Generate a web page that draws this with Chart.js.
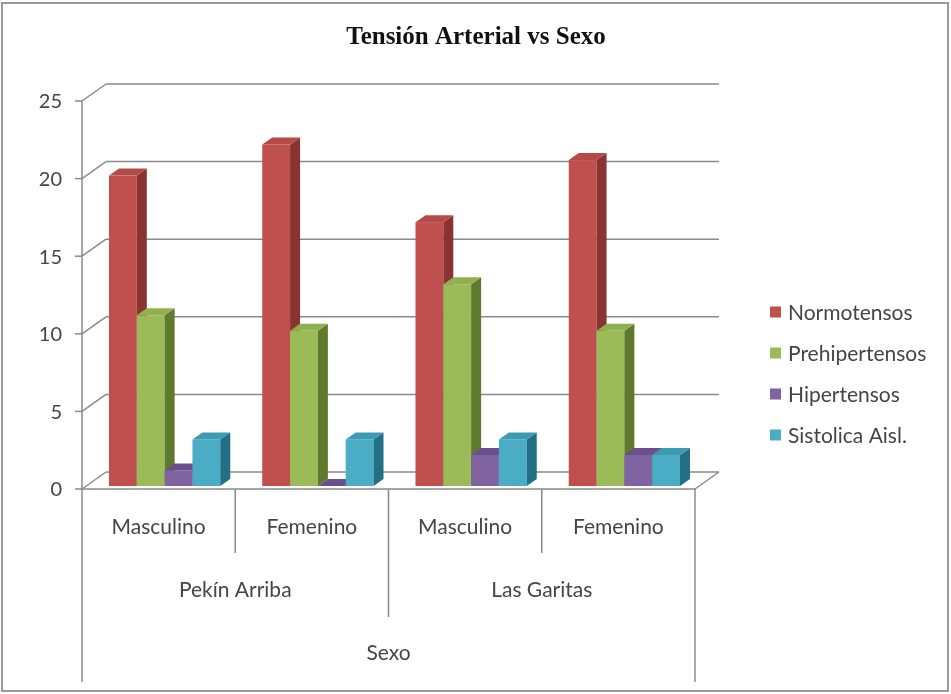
<!DOCTYPE html>
<html>
<head>
<meta charset="utf-8">
<script src="https://cdn.jsdelivr.net/npm/chart.js@4/dist/chart.umd.min.js"></script>
<style>
  html, body { margin: 0; padding: 0; background: #ffffff; }
  #c { display: block; }
</style>
</head>
<body>
<canvas id="c" width="951" height="694"></canvas>
<script>
// ---- data ----
const chartTitle = "Tensión Arterial vs Sexo";
const categories = ["Masculino", "Femenino", "Masculino", "Femenino"];
const groupLabels = ["Pekín Arriba", "Las Garitas"];
const axisTitle = "Sexo";
const seriesNames = ["Normotensos", "Prehipertensos", "Hipertensos", "Sistolica Aisl."];
const normotensos = [20, 22, 17, 21];
const prehipertensos = [11, 10, 13, 10];
const hipertensos = [1, 0, 2, 2];
const sistolica = [3, 3, 3, 2];
const yTicks = [0, 5, 10, 15, 20, 25];

// ---- styles ----
const frontColors = ["#C0504D", "#9BBB59", "#8064A2", "#4BACC6"];
const topColors   = ["#B54A47", "#91B04F", "#6A4F8C", "#3C9AB3"];
const sideColors  = ["#8A3431", "#5F7A2C", "#4F3870", "#236F85"];
const lineColor = "#8a8a8a";
const textColor = "#454545";
const labelFont = "21px Lato";
const DEPTH_X = 24, DEPTH_Y = -17;   // back wall offset
const BAR_DX = 10, BAR_DY = -7;      // bar depth
const BAR_SHIFT_X = 6, BAR_SHIFT_Y = -3;

const seriesData = [normotensos, prehipertensos, hipertensos, sistolica];

const drawPlugin = {
  id: 'excel3d',
  beforeDatasetsDraw(chart) {
    const ctx = chart.ctx;
    const ys = chart.scales.y;
    const ca = chart.chartArea;
    ctx.save();
    ctx.strokeStyle = lineColor;
    ctx.lineWidth = 1.5;
    // back wall gridlines + side wall diagonals + tick marks
    yTicks.forEach(v => {
      const py = ys.getPixelForValue(v);
      ctx.beginPath();
      ctx.moveTo(ca.left + DEPTH_X, py + DEPTH_Y);
      ctx.lineTo(ca.right + DEPTH_X, py + DEPTH_Y);
      ctx.stroke();
      ctx.beginPath();
      ctx.moveTo(ca.left, py);
      ctx.lineTo(ca.left + DEPTH_X, py + DEPTH_Y);
      ctx.stroke();
      ctx.beginPath();
      ctx.moveTo(ca.left - 7, py);
      ctx.lineTo(ca.left, py);
      ctx.stroke();
    });
    // floor right diagonal
    const p0 = ys.getPixelForValue(0);
    ctx.beginPath();
    ctx.moveTo(ca.right, p0);
    ctx.lineTo(ca.right + DEPTH_X, p0 + DEPTH_Y);
    ctx.stroke();
    // front axis line
    ctx.beginPath();
    ctx.moveTo(ca.left, ys.getPixelForValue(yTicks[yTicks.length - 1]));
    ctx.lineTo(ca.left, p0);
    ctx.stroke();
    // floor front line
    ctx.beginPath();
    ctx.moveTo(ca.left, p0);
    ctx.lineTo(ca.right, p0);
    ctx.stroke();

    // bars
    ctx.translate(BAR_SHIFT_X, BAR_SHIFT_Y);
    const metas = seriesData.map((_, i) => chart.getDatasetMeta(i));
    for (let j = 0; j < categories.length; j++) {
      for (let i = 0; i < metas.length; i++) {
        const el = metas[i].data[j];
        const x0 = el.x - el.width / 2, x1 = el.x + el.width / 2;
        const yt = el.y, yb = el.base;
        // front
        ctx.fillStyle = frontColors[i];
        ctx.fillRect(x0, yt, x1 - x0, yb - yt);
        // side
        ctx.fillStyle = sideColors[i];
        ctx.beginPath();
        ctx.moveTo(x1, yt);
        ctx.lineTo(x1 + BAR_DX, yt + BAR_DY);
        ctx.lineTo(x1 + BAR_DX, yb + BAR_DY);
        ctx.lineTo(x1, yb);
        ctx.closePath();
        ctx.fill();
        // top
        ctx.fillStyle = topColors[i];
        ctx.beginPath();
        ctx.moveTo(x0, yt);
        ctx.lineTo(x1, yt);
        ctx.lineTo(x1 + BAR_DX, yt + BAR_DY);
        ctx.lineTo(x0 + BAR_DX, yt + BAR_DY);
        ctx.closePath();
        ctx.fill();
      }
    }
    ctx.restore();
    return false;
  },
  afterDraw(chart) {
    const ctx = chart.ctx;
    const ys = chart.scales.y;
    const xs = chart.scales.x;
    const ca = chart.chartArea;
    const p0 = ys.getPixelForValue(0);
    ctx.save();
    // outer border
    ctx.strokeStyle = "#9a9a9a";
    ctx.lineWidth = 2;
    ctx.strokeRect(2, 3, 946, 688);

    // title
    ctx.fillStyle = "#111111";
    ctx.font = "bold 25px 'Liberation Serif'";
    ctx.textAlign = "center";
    ctx.textBaseline = "alphabetic";
    ctx.fillText(chartTitle, 476, 44);

    // y tick labels
    ctx.font = "20px Lato";
    ctx.fillStyle = textColor;
    ctx.textAlign = "right";
    ctx.textBaseline = "middle";
    yTicks.forEach(v => ctx.fillText(String(v), 62, ys.getPixelForValue(v) + 1));

    // table lines
    ctx.strokeStyle = lineColor;
    ctx.lineWidth = 1.5;
    const halfW = (xs.getPixelForValue(1) - xs.getPixelForValue(0)) / 2;
    const bounds = [];
    for (let j = 0; j <= categories.length; j++) {
      bounds.push(j < categories.length ? xs.getPixelForValue(j) - halfW : xs.getPixelForValue(j - 1) + halfW);
    }
    const line = (x, y1, y2) => { ctx.beginPath(); ctx.moveTo(x, y1); ctx.lineTo(x, y2); ctx.stroke(); };
    line(bounds[0], p0, 682);
    line(bounds[4], p0, 682);
    line(bounds[1], p0, 553);
    line(bounds[3], p0, 553);
    line(bounds[2], p0, 617);

    // category labels
    ctx.font = labelFont;
    ctx.fillStyle = textColor;
    ctx.textAlign = "center";
    ctx.textBaseline = "middle";
    categories.forEach((c, j) => ctx.fillText(c, xs.getPixelForValue(j), 527));
    groupLabels.forEach((g, k) => ctx.fillText(g, (bounds[2 * k] + bounds[2 * k + 2]) / 2, 590));
    ctx.fillText(axisTitle, (bounds[0] + bounds[4]) / 2, 653);

    // legend
    const legendY = [312, 353, 394, 435];
    ctx.textAlign = "left";
    seriesNames.forEach((n, i) => {
      ctx.fillStyle = frontColors[i];
      ctx.fillRect(770, legendY[i] - 5.5, 11, 11);
      ctx.fillStyle = textColor;
      ctx.fillText(n, 788, legendY[i] + 1);
    });
    ctx.restore();
  }
};

new Chart(document.getElementById('c'), {
  type: 'bar',
  data: {
    labels: categories,
    datasets: seriesNames.map((n, i) => ({
      label: n,
      data: seriesData[i],
      backgroundColor: frontColors[i],
      categoryPercentage: 0.726,
      barPercentage: 1.0
    }))
  },
  options: {
    responsive: false,
    animation: false,
    devicePixelRatio: 1,
    layout: { padding: { left: 82, right: 256, top: 101, bottom: 205 } },
    scales: {
      x: { display: false },
      y: { display: false, min: 0, max: 25 }
    },
    plugins: { legend: { display: false }, title: { display: false }, tooltip: { enabled: false } }
  },
  plugins: [drawPlugin]
});
</script>
</body>
</html>
